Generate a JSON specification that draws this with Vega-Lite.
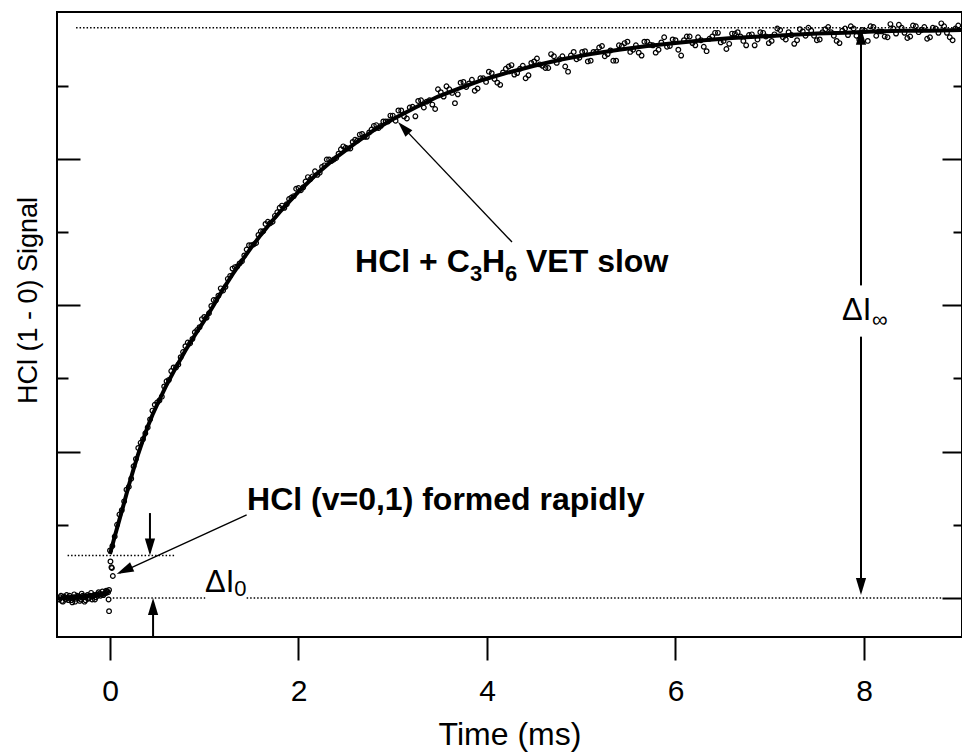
{
  "$schema": "https://vega.github.io/schema/vega-lite/v6.json",
  "width": 905,
  "height": 625,
  "autosize": {"type": "none"},
  "padding": {"left": 57, "top": 12, "right": 0, "bottom": 116},
  "background": "white",
  "config": {
    "view": {"stroke": "black", "strokeWidth": 2},
    "axis": {"domain": false, "grid": false, "tickColor": "black", "tickWidth": 2, "labelColor": "black", "titleColor": "black", "labelFont": "Liberation Sans", "titleFont": "Liberation Sans", "titleFontWeight": "normal"},
    "text": {"font": "Liberation Sans", "color": "black"}
  },
  "datasets": {
    "pts": [
      {"t":-0.54,"v":-0.02},{"t":-0.52,"v":0.03},{"t":-0.50,"v":-0.05},{"t":-0.48,"v":0.01},{"t":-0.46,"v":0.04},{"t":-0.44,"v":-0.03},{"t":-0.42,"v":0.00},{"t":-0.40,"v":-0.06},{"t":-0.38,"v":0.05},{"t":-0.36,"v":-0.01},{"t":-0.34,"v":0.02},{"t":-0.32,"v":-0.04},{"t":-0.30,"v":0.06},{"t":-0.28,"v":0.01},{"t":-0.26,"v":-0.03},{"t":-0.24,"v":0.04},{"t":-0.22,"v":0.00},{"t":-0.20,"v":0.07},{"t":-0.18,"v":0.02},{"t":-0.16,"v":-0.02},{"t":-0.14,"v":0.05},{"t":-0.12,"v":0.08},{"t":-0.10,"v":0.03},{"t":-0.08,"v":0.09},{"t":-0.06,"v":0.06},{"t":-0.04,"v":0.10},{"t":-0.02,"v":0.08},
      {"t":-0.53,"v":0.01},{"t":-0.51,"v":-0.04},{"t":-0.49,"v":0.02},{"t":-0.47,"v":-0.02},{"t":-0.45,"v":0.00},{"t":-0.43,"v":0.03},{"t":-0.41,"v":-0.03},{"t":-0.39,"v":0.01},{"t":-0.37,"v":-0.05},{"t":-0.35,"v":0.03},{"t":-0.33,"v":0.00},{"t":-0.31,"v":-0.02},{"t":-0.29,"v":0.03},{"t":-0.27,"v":-0.05},{"t":-0.25,"v":0.02},{"t":-0.23,"v":-0.01},{"t":-0.21,"v":0.03},{"t":-0.19,"v":-0.02},{"t":-0.17,"v":0.04},{"t":-0.15,"v":0.01},{"t":-0.13,"v":0.03},{"t":-0.11,"v":0.06},{"t":-0.09,"v":0.05},{"t":-0.07,"v":0.04},{"t":-0.05,"v":0.07},{"t":-0.03,"v":0.09},{"t":-0.01,"v":0.11},
      {"t":-0.015,"v":-0.02},{"t":-0.01,"v":-0.18},{"t":0.005,"v":0.50},{"t":0.015,"v":0.42},{"t":0.02,"v":0.41},{"t":0.03,"v":0.30},
      {"t":0.00,"v":0.65},{"t":0.05,"v":0.84},{"t":0.10,"v":1.14},{"t":0.15,"v":1.32},{"t":0.20,"v":1.52},{"t":0.25,"v":1.80},{"t":0.30,"v":2.05},{"t":0.35,"v":2.17},{"t":0.40,"v":2.33},{"t":0.45,"v":2.56},{"t":0.50,"v":2.67},{"t":0.55,"v":2.75},{"t":0.60,"v":2.96},{"t":0.65,"v":3.10},{"t":0.70,"v":3.15},{"t":0.75,"v":3.29},{"t":0.80,"v":3.44},{"t":0.85,"v":3.48},{"t":0.90,"v":3.63},{"t":0.95,"v":3.70},
      {"t":1.00,"v":3.84},{"t":1.05,"v":3.89},{"t":1.10,"v":4.07},{"t":1.15,"v":4.13},{"t":1.20,"v":4.20},{"t":1.25,"v":4.36},{"t":1.30,"v":4.50},{"t":1.35,"v":4.53},{"t":1.40,"v":4.60},{"t":1.45,"v":4.76},{"t":1.50,"v":4.82},{"t":1.55,"v":4.85},{"t":1.60,"v":5.01},{"t":1.65,"v":5.11},{"t":1.70,"v":5.12},{"t":1.75,"v":5.22},{"t":1.80,"v":5.33},{"t":1.85,"v":5.33},{"t":1.90,"v":5.45},{"t":1.95,"v":5.49},
      {"t":2.00,"v":5.60},{"t":2.05,"v":5.61},{"t":2.10,"v":5.75},{"t":2.15,"v":5.76},{"t":2.20,"v":5.78},{"t":2.25,"v":5.89},{"t":2.30,"v":5.99},{"t":2.35,"v":5.97},{"t":2.40,"v":6.01},{"t":2.45,"v":6.13},{"t":2.50,"v":6.15},{"t":2.55,"v":6.14},{"t":2.60,"v":6.26},{"t":2.65,"v":6.33},{"t":2.70,"v":6.30},{"t":2.75,"v":6.36},{"t":2.80,"v":6.45},{"t":2.85,"v":6.42},{"t":2.90,"v":6.51},{"t":2.95,"v":6.51},{"t":3.00,"v":6.59},
      {"t":0.025,"v":0.71},{"t":0.075,"v":1.00},{"t":0.125,"v":1.20},{"t":0.175,"v":1.48},{"t":0.225,"v":1.63},{"t":0.275,"v":1.90},{"t":0.325,"v":2.12},{"t":0.375,"v":2.25},{"t":0.425,"v":2.44},{"t":0.475,"v":2.64},{"t":0.525,"v":2.70},{"t":0.575,"v":2.89},{"t":0.625,"v":2.98},{"t":0.675,"v":3.15},{"t":0.725,"v":3.19},{"t":0.775,"v":3.36},{"t":0.825,"v":3.49},{"t":0.875,"v":3.54},{"t":0.925,"v":3.66},{"t":0.975,"v":3.81},
      {"t":1.025,"v":3.83},{"t":1.075,"v":3.99},{"t":1.125,"v":4.07},{"t":1.175,"v":4.23},{"t":1.225,"v":4.25},{"t":1.275,"v":4.40},{"t":1.325,"v":4.52},{"t":1.375,"v":4.57},{"t":1.425,"v":4.68},{"t":1.475,"v":4.82},
      {"t":1.525,"v":4.83},{"t":1.575,"v":4.96},{"t":1.625,"v":5.01},{"t":1.675,"v":5.14},{"t":1.725,"v":5.14},{"t":1.775,"v":5.27},{"t":1.825,"v":5.36},{"t":1.875,"v":5.38},{"t":1.925,"v":5.47},{"t":1.975,"v":5.59},{"t":2.025,"v":5.57},{"t":2.075,"v":5.69},{"t":2.125,"v":5.72},{"t":2.175,"v":5.83},{"t":2.225,"v":5.81},{"t":2.275,"v":5.91},{"t":2.325,"v":5.99},{"t":2.375,"v":5.99},{"t":2.425,"v":6.07},{"t":2.475,"v":6.17},{"t":2.525,"v":6.14},{"t":2.575,"v":6.23},{"t":2.625,"v":6.25},{"t":2.675,"v":6.34},{"t":2.725,"v":6.30},{"t":2.775,"v":6.40},{"t":2.825,"v":6.46},{"t":2.875,"v":6.45},{"t":2.925,"v":6.51},{"t":2.975,"v":6.59},
      {"t":3.06,"v":6.66},{"t":3.12,"v":6.58},{"t":3.18,"v":6.70},{"t":3.24,"v":6.58},{"t":3.30,"v":6.80},{"t":3.36,"v":6.78},{"t":3.42,"v":6.74},{"t":3.48,"v":6.95},{"t":3.54,"v":6.85},{"t":3.60,"v":6.95},{"t":3.66,"v":6.76},{"t":3.72,"v":7.04},{"t":3.78,"v":6.98},{"t":3.84,"v":7.08},{"t":3.90,"v":6.96},{"t":3.96,"v":7.10},
      {"t":4.02,"v":7.19},{"t":4.08,"v":7.09},{"t":4.14,"v":7.01},{"t":4.20,"v":7.23},{"t":4.26,"v":7.28},{"t":4.32,"v":7.17},{"t":4.38,"v":7.27},{"t":4.44,"v":7.14},{"t":4.50,"v":7.33},{"t":4.56,"v":7.29},{"t":4.62,"v":7.24},{"t":4.68,"v":7.43},{"t":4.74,"v":7.31},{"t":4.80,"v":7.40},{"t":4.86,"v":7.19},{"t":4.92,"v":7.46},{"t":4.98,"v":7.38},
      {"t":5.04,"v":7.47},{"t":5.10,"v":7.34},{"t":5.16,"v":7.46},{"t":5.22,"v":7.54},{"t":5.28,"v":7.43},{"t":5.34,"v":7.34},{"t":5.40,"v":7.55},{"t":5.46,"v":7.58},{"t":5.52,"v":7.46},{"t":5.58,"v":7.55},{"t":5.64,"v":7.41},{"t":5.70,"v":7.60},{"t":5.76,"v":7.55},{"t":5.82,"v":7.49},{"t":5.88,"v":7.66},{"t":5.94,"v":7.54},
      {"t":6.00,"v":7.62},{"t":6.06,"v":7.41},{"t":6.12,"v":7.67},{"t":6.18,"v":7.58},{"t":6.24,"v":7.66},{"t":6.30,"v":7.53},{"t":6.36,"v":7.64},{"t":6.42,"v":7.72},{"t":6.48,"v":7.59},{"t":6.54,"v":7.50},{"t":6.60,"v":7.71},{"t":6.66,"v":7.73},{"t":6.72,"v":7.61},{"t":6.78,"v":7.69},{"t":6.84,"v":7.55},{"t":6.90,"v":7.73},{"t":6.96,"v":7.67},
      {"t":7.02,"v":7.61},{"t":7.08,"v":7.78},{"t":7.14,"v":7.66},{"t":7.20,"v":7.73},{"t":7.26,"v":7.57},{"t":7.32,"v":7.77},{"t":7.38,"v":7.68},{"t":7.44,"v":7.75},{"t":7.50,"v":7.62},{"t":7.56,"v":7.73},{"t":7.62,"v":7.80},{"t":7.68,"v":7.68},{"t":7.74,"v":7.58},{"t":7.80,"v":7.78},{"t":7.86,"v":7.81},{"t":7.92,"v":7.68},{"t":7.98,"v":7.76},
      {"t":8.04,"v":7.61},{"t":8.10,"v":7.80},{"t":8.16,"v":7.74},{"t":8.22,"v":7.67},{"t":8.28,"v":7.84},{"t":8.34,"v":7.71},{"t":8.40,"v":7.79},{"t":8.46,"v":7.65},{"t":8.52,"v":7.82},{"t":8.58,"v":7.73},{"t":8.64,"v":7.80},{"t":8.70,"v":7.66},{"t":8.76,"v":7.78},{"t":8.82,"v":7.85},{"t":8.88,"v":7.72},{"t":8.94,"v":7.62},{"t":9.00,"v":7.82},
      {"t":3.03,"v":6.52},{"t":3.09,"v":6.66},{"t":3.15,"v":6.55},{"t":3.21,"v":6.71},{"t":3.27,"v":6.79},{"t":3.33,"v":6.70},{"t":3.39,"v":6.80},{"t":3.45,"v":6.68},{"t":3.51,"v":6.91},{"t":3.57,"v":6.99},{"t":3.63,"v":6.90},{"t":3.69,"v":6.88},{"t":3.75,"v":7.05},{"t":3.81,"v":7.03},{"t":3.87,"v":6.93},{"t":3.93,"v":7.10},{"t":3.99,"v":7.05},
      {"t":4.05,"v":7.17},{"t":4.11,"v":7.04},{"t":4.17,"v":7.18},{"t":4.23,"v":7.26},{"t":4.29,"v":7.15},{"t":4.35,"v":7.23},{"t":4.41,"v":7.10},{"t":4.47,"v":7.31},{"t":4.53,"v":7.37},{"t":4.59,"v":7.27},{"t":4.65,"v":7.24},{"t":4.71,"v":7.40},{"t":4.77,"v":7.36},{"t":4.83,"v":7.26},{"t":4.89,"v":7.41},{"t":4.95,"v":7.36},
      {"t":5.01,"v":7.46},{"t":5.07,"v":7.33},{"t":5.13,"v":7.46},{"t":5.19,"v":7.52},{"t":5.25,"v":7.40},{"t":5.31,"v":7.48},{"t":5.37,"v":7.34},{"t":5.43,"v":7.54},{"t":5.49,"v":7.60},{"t":5.55,"v":7.49},{"t":5.61,"v":7.45},{"t":5.67,"v":7.60},{"t":5.73,"v":7.56},{"t":5.79,"v":7.45},{"t":5.85,"v":7.59},{"t":5.91,"v":7.53},{"t":5.97,"v":7.63},
      {"t":6.03,"v":7.49},{"t":6.09,"v":7.62},{"t":6.15,"v":7.67},{"t":6.21,"v":7.55},{"t":6.27,"v":7.62},{"t":6.33,"v":7.47},{"t":6.39,"v":7.67},{"t":6.45,"v":7.72},{"t":6.51,"v":7.61},{"t":6.57,"v":7.57},{"t":6.63,"v":7.71},{"t":6.69,"v":7.67},{"t":6.75,"v":7.55},{"t":6.81,"v":7.70},{"t":6.87,"v":7.63},{"t":6.93,"v":7.72},{"t":6.99,"v":7.58},
      {"t":7.05,"v":7.70},{"t":7.11,"v":7.76},{"t":7.17,"v":7.63},{"t":7.23,"v":7.69},{"t":7.29,"v":7.62},{"t":7.35,"v":7.74},{"t":7.41,"v":7.79},{"t":7.47,"v":7.68},{"t":7.53,"v":7.63},{"t":7.59,"v":7.77},{"t":7.65,"v":7.73},{"t":7.71,"v":7.61},{"t":7.77,"v":7.75},{"t":7.83,"v":7.69},{"t":7.89,"v":7.78},{"t":7.95,"v":7.63},
      {"t":8.01,"v":7.75},{"t":8.07,"v":7.81},{"t":8.13,"v":7.68},{"t":8.19,"v":7.74},{"t":8.25,"v":7.66},{"t":8.31,"v":7.78},{"t":8.37,"v":7.83},{"t":8.43,"v":7.72},{"t":8.49,"v":7.67},{"t":8.55,"v":7.81},{"t":8.61,"v":7.76},{"t":8.67,"v":7.64},{"t":8.73,"v":7.79},{"t":8.79,"v":7.72},{"t":8.85,"v":7.81},{"t":8.91,"v":7.66},{"t":8.97,"v":7.78}
    ],
    "fit": [
      {"seg":"pre","t":-0.56,"v":-0.01},{"seg":"pre","t":-0.02,"v":0.06},
      {"seg":"post","t":0.0,"v":0.60},{"seg":"post","t":0.05,"v":0.84},{"seg":"post","t":0.10,"v":1.07},{"seg":"post","t":0.15,"v":1.30},{"seg":"post","t":0.20,"v":1.54},{"seg":"post","t":0.25,"v":1.76},{"seg":"post","t":0.30,"v":1.97},{"seg":"post","t":0.35,"v":2.16},{"seg":"post","t":0.40,"v":2.34},{"seg":"post","t":0.45,"v":2.50},{"seg":"post","t":0.50,"v":2.64},{"seg":"post","t":0.60,"v":2.91},{"seg":"post","t":0.70,"v":3.15},{"seg":"post","t":0.80,"v":3.38},{"seg":"post","t":0.90,"v":3.59},{"seg":"post","t":1.00,"v":3.79},{"seg":"post","t":1.10,"v":4.00},{"seg":"post","t":1.20,"v":4.22},{"seg":"post","t":1.30,"v":4.42},{"seg":"post","t":1.40,"v":4.61},{"seg":"post","t":1.50,"v":4.79},{"seg":"post","t":1.60,"v":4.96},{"seg":"post","t":1.70,"v":5.12},{"seg":"post","t":1.80,"v":5.27},{"seg":"post","t":1.90,"v":5.41},{"seg":"post","t":2.00,"v":5.55},{"seg":"post","t":2.20,"v":5.80},{"seg":"post","t":2.40,"v":6.02},{"seg":"post","t":2.60,"v":6.21},{"seg":"post","t":2.80,"v":6.39},{"seg":"post","t":3.00,"v":6.54},{"seg":"post","t":3.24,"v":6.70},{"seg":"post","t":3.48,"v":6.85},{"seg":"post","t":3.72,"v":6.97},{"seg":"post","t":3.96,"v":7.08},{"seg":"post","t":4.20,"v":7.17},{"seg":"post","t":4.50,"v":7.27},{"seg":"post","t":4.80,"v":7.36},{"seg":"post","t":5.10,"v":7.43},{"seg":"post","t":5.40,"v":7.49},{"seg":"post","t":5.70,"v":7.54},{"seg":"post","t":6.00,"v":7.58},{"seg":"post","t":6.30,"v":7.62},{"seg":"post","t":6.60,"v":7.65},{"seg":"post","t":6.90,"v":7.67},{"seg":"post","t":7.20,"v":7.69},{"seg":"post","t":7.50,"v":7.71},{"seg":"post","t":7.80,"v":7.72},{"seg":"post","t":8.10,"v":7.74},{"seg":"post","t":8.40,"v":7.75},{"seg":"post","t":8.70,"v":7.75},{"seg":"post","t":9.03,"v":7.76}
    ],
    "dotted": [
      {"t":-0.36,"t2":9.03,"v":7.79},
      {"t":-0.45,"t2":0.69,"v":0.58},
      {"t":0.03,"t2":1.01,"v":0.0},
      {"t":1.45,"t2":8.83,"v":0.0}
    ],
    "shaftsV": [
      {"t":0.424,"v":1.16,"t2":0.424,"v2":0.62},
      {"t":0.457,"v":-0.533,"t2":0.457,"v2":-0.05},
      {"t":7.968,"v":7.75,"t2":7.968,"v2":4.27},
      {"t":7.968,"v":3.57,"t2":7.968,"v2":0.10}
    ],
    "shaftsD": [
      {"t":4.265,"v":4.863,"t2":3.08,"v2":6.47},
      {"t":1.450,"v":1.134,"t2":0.10,"v2":0.34}
    ],
    "headDown": [{"t":0.424,"v":0.58},{"t":7.968,"v":0.04}],
    "headUp": [{"t":0.457,"v":0.0},{"t":7.968,"v":7.79}],
    "headVET": [{"t":3.056,"v":6.503}],
    "headHCl": [{"t":0.071,"v":0.328}],
    "txtBold": [
      {"t":2.600,"v":4.454,"s":"HCl + C"},
      {"t":3.947,"v":4.454,"s":"H"},
      {"t":4.414,"v":4.454,"s":"VET slow"},
      {"t":1.454,"v":1.202,"s":"HCl (v=0,1) formed rapidly"}
    ],
    "txtBoldSub": [
      {"t":3.820,"v":4.331,"s":"3"},
      {"t":4.191,"v":4.331,"s":"6"}
    ],
    "txtReg": [
      {"t":1.008,"v":0.082,"s":"ΔI"},
      {"t":7.767,"v":3.798,"s":"ΔI"}
    ],
    "txtRegSub": [
      {"t":1.319,"v":0.027,"s":"0"},
      {"t":8.085,"v":3.702,"s":"∞"}
    ]
  },
  "resolve": {"axis": {"x": "independent", "y": "independent"}},
  "layer": [
    {
      "data": {"name": "pts"},
      "mark": {"type": "point", "shape": "circle", "filled": false, "stroke": "black", "strokeWidth": 1.2, "opacity": 1, "size": 22},
      "encoding": {
        "x": {"field": "t", "type": "quantitative", "scale": {"domain": [-0.5623, 9.0398], "nice": false, "zero": false},
          "axis": {"orient": "bottom", "values": [0, 2, 4, 6, 8], "tickSize": 23, "labelFontSize": 30, "labelPadding": 16, "labelFlush": false, "labelOverlap": false, "title": "Time (ms)", "titleFontSize": 32, "titlePadding": 13}},
        "y": {"field": "v", "type": "quantitative", "scale": {"domain": [-0.533, 8.005], "nice": false, "zero": false},
          "axis": {"orient": "left", "values": [0, 2, 4, 6], "tickSize": -23, "labels": false, "title": "HCl (1 - 0) Signal", "titleFontSize": 27, "titleBaseline": "alphabetic", "titleX": -21, "titleY": 288}}
      }
    },
    {
      "data": {"name": "dotted"},
      "mark": {"type": "rule", "color": "black", "strokeWidth": 1.5, "strokeDash": [1.5, 2]},
      "encoding": {
        "x": {"field": "t", "type": "quantitative", "scale": {"domain": [-0.5623, 9.0398], "nice": false, "zero": false}, "axis": null},
        "x2": {"field": "t2"},
        "y": {"field": "v", "type": "quantitative", "scale": {"domain": [-0.533, 8.005], "nice": false, "zero": false}, "axis": null}
      }
    },
    {
      "data": {"name": "shaftsV"},
      "mark": {"type": "rule", "color": "black", "strokeWidth": 2},
      "encoding": {
        "x": {"field": "t", "type": "quantitative", "scale": {"domain": [-0.5623, 9.0398], "nice": false, "zero": false}, "axis": null},
        "x2": {"field": "t2"},
        "y": {"field": "v", "type": "quantitative", "scale": {"domain": [-0.533, 8.005], "nice": false, "zero": false}, "axis": null},
        "y2": {"field": "v2"}
      }
    },
    {
      "data": {"name": "shaftsD"},
      "mark": {"type": "rule", "color": "black", "strokeWidth": 1.4},
      "encoding": {
        "x": {"field": "t", "type": "quantitative", "scale": {"domain": [-0.5623, 9.0398], "nice": false, "zero": false}, "axis": null},
        "x2": {"field": "t2"},
        "y": {"field": "v", "type": "quantitative", "scale": {"domain": [-0.533, 8.005], "nice": false, "zero": false}, "axis": null},
        "y2": {"field": "v2"}
      }
    },
    {
      "data": {"name": "headUp"},
      "mark": {"type": "point", "shape": "M0,0L-0.3,1L0.3,1Z", "filled": true, "color": "black", "opacity": 1, "strokeWidth": 0, "size": 1156, "angle": 0},
      "encoding": {
        "x": {"field": "t", "type": "quantitative", "scale": {"domain": [-0.5623, 9.0398], "nice": false, "zero": false}, "axis": null},
        "y": {"field": "v", "type": "quantitative", "scale": {"domain": [-0.533, 8.005], "nice": false, "zero": false}, "axis": null}
      }
    },
    {
      "data": {"name": "headDown"},
      "mark": {"type": "point", "shape": "M0,0L-0.3,1L0.3,1Z", "filled": true, "color": "black", "opacity": 1, "strokeWidth": 0, "size": 1156, "angle": 180},
      "encoding": {
        "x": {"field": "t", "type": "quantitative", "scale": {"domain": [-0.5623, 9.0398], "nice": false, "zero": false}, "axis": null},
        "y": {"field": "v", "type": "quantitative", "scale": {"domain": [-0.533, 8.005], "nice": false, "zero": false}, "axis": null}
      }
    },
    {
      "data": {"name": "headVET"},
      "mark": {"type": "point", "shape": "M0,0L-0.3,1L0.3,1Z", "filled": true, "color": "black", "opacity": 1, "strokeWidth": 0, "size": 1000, "angle": 316.5},
      "encoding": {
        "x": {"field": "t", "type": "quantitative", "scale": {"domain": [-0.5623, 9.0398], "nice": false, "zero": false}, "axis": null},
        "y": {"field": "v", "type": "quantitative", "scale": {"domain": [-0.533, 8.005], "nice": false, "zero": false}, "axis": null}
      }
    },
    {
      "data": {"name": "headHCl"},
      "mark": {"type": "point", "shape": "M0,0L-0.3,1L0.3,1Z", "filled": true, "color": "black", "opacity": 1, "strokeWidth": 0, "size": 1156, "angle": 245.6},
      "encoding": {
        "x": {"field": "t", "type": "quantitative", "scale": {"domain": [-0.5623, 9.0398], "nice": false, "zero": false}, "axis": null},
        "y": {"field": "v", "type": "quantitative", "scale": {"domain": [-0.533, 8.005], "nice": false, "zero": false}, "axis": null}
      }
    },
    {
      "data": {"name": "fit"},
      "mark": {"type": "line", "color": "black", "strokeWidth": 4},
      "encoding": {
        "x": {"field": "t", "type": "quantitative", "scale": {"domain": [-0.5623, 9.0398], "nice": false, "zero": false}, "axis": null},
        "y": {"field": "v", "type": "quantitative", "scale": {"domain": [-0.533, 8.005], "nice": false, "zero": false},
          "axis": {"orient": "left", "values": [1, 3, 5, 7], "tickSize": -11, "labels": false, "title": null}},
        "detail": {"field": "seg", "type": "nominal"}
      }
    },
    {
      "data": {"name": "txtBold"},
      "mark": {"type": "text", "align": "left", "baseline": "alphabetic", "fontSize": 32, "fontWeight": "bold"},
      "encoding": {
        "x": {"field": "t", "type": "quantitative", "scale": {"domain": [-0.5623, 9.0398], "nice": false, "zero": false}, "axis": null},
        "y": {"field": "v", "type": "quantitative", "scale": {"domain": [-0.533, 8.005], "nice": false, "zero": false},
          "axis": {"orient": "right", "values": [0, 2, 4, 6], "tickSize": -20, "labels": false, "title": null}},
        "text": {"field": "s"}
      }
    },
    {
      "data": {"name": "txtBoldSub"},
      "mark": {"type": "text", "align": "left", "baseline": "alphabetic", "fontSize": 22, "fontWeight": "bold"},
      "encoding": {
        "x": {"field": "t", "type": "quantitative", "scale": {"domain": [-0.5623, 9.0398], "nice": false, "zero": false}, "axis": null},
        "y": {"field": "v", "type": "quantitative", "scale": {"domain": [-0.533, 8.005], "nice": false, "zero": false},
          "axis": {"orient": "right", "values": [1, 3, 5, 7], "tickSize": -9, "labels": false, "title": null}},
        "text": {"field": "s"}
      }
    },
    {
      "data": {"name": "txtReg"},
      "mark": {"type": "text", "align": "left", "baseline": "alphabetic", "fontSize": 31},
      "encoding": {
        "x": {"field": "t", "type": "quantitative", "scale": {"domain": [-0.5623, 9.0398], "nice": false, "zero": false}, "axis": null},
        "y": {"field": "v", "type": "quantitative", "scale": {"domain": [-0.533, 8.005], "nice": false, "zero": false}, "axis": null},
        "text": {"field": "s"}
      }
    },
    {
      "data": {"name": "txtRegSub"},
      "mark": {"type": "text", "align": "left", "baseline": "alphabetic", "fontSize": 22},
      "encoding": {
        "x": {"field": "t", "type": "quantitative", "scale": {"domain": [-0.5623, 9.0398], "nice": false, "zero": false}, "axis": null},
        "y": {"field": "v", "type": "quantitative", "scale": {"domain": [-0.533, 8.005], "nice": false, "zero": false}, "axis": null},
        "text": {"field": "s"}
      }
    }
  ]
}
